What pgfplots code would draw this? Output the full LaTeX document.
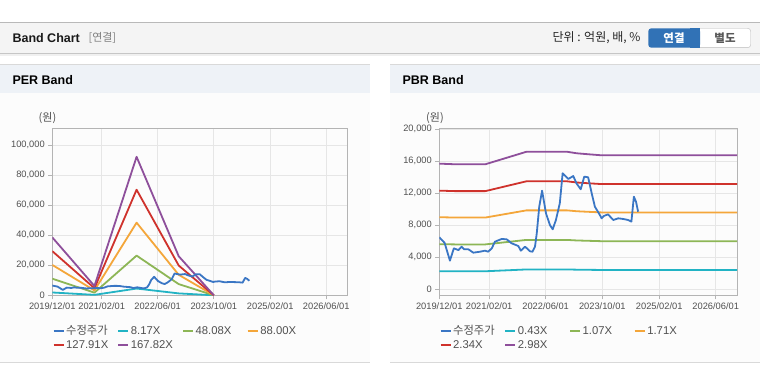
\documentclass[border=0pt]{standalone}
\usepackage{fontspec}
\setmainfont{Liberation Sans}
\newfontfamily\kr{Noto Sans CJK KR}
\usepackage{pgfplots}
\pgfplotsset{compat=1.18}
\definecolor{cPrice}{HTML}{3A76C4}
\definecolor{cCyan}{HTML}{22B3C4}
\definecolor{cGreen}{HTML}{8DB656}
\definecolor{cOrange}{HTML}{F4A63A}
\definecolor{cRed}{HTML}{CF322C}
\definecolor{cPurple}{HTML}{8E4F9B}
\definecolor{hdr}{HTML}{F4F4F4}
\definecolor{ptitle}{HTML}{EEF2F7}
\definecolor{pbody}{HTML}{FCFCFC}
\definecolor{btnblue}{HTML}{3172B6}
\definecolor{gridc}{HTML}{E6E6E6}
\definecolor{axisc}{HTML}{B4B4B4}
\definecolor{labc}{HTML}{505050}
\pgfplotsset{bandaxis/.style={
  scale only axis, height=167pt, xmin=0, xmax=84,
  xtick={0,14.06,30,46,62.06,78},
  xticklabels={2019/12/01,2021/02/01,2022/06/01,2023/10/01,2025/02/01,2026/06/01},
  grid=major, major grid style={draw=gridc, line width=0.8pt},
  axis line style={draw=axisc, line width=1pt},
  tick style={draw=axisc, line width=0.8pt}, major tick length=4pt, tick align=outside, tick pos=left,
  ticklabel style={font=\fontsize{9.3}{10}\selectfont, text=labc},
  yticklabel style={/pgf/number format/.cd, fixed, 1000 sep={,}, assume math mode=true},
  scaled y ticks=false,
  every axis plot/.append style={line width=1.8pt, mark=none, line join=round},
  legend columns=4,
  legend cell align=left,
  legend style={draw=none, fill=none, at={(0,0)}, anchor=north west, yshift=-29pt,
    font=\fontsize{11.3}{12}\selectfont, inner sep=0pt, row sep=2pt,
    nodes={inner xsep=1.5pt, inner ysep=1pt, text=labc}},
  legend image code/.code={\draw[#1, line width=2.2pt] (0pt,0pt) -- (10pt,0pt);},
}}
\begin{document}
\begin{tikzpicture}[x=1pt,y=1pt]
\useasboundingbox (0,0) rectangle (760,364);
\fill[white] (0,0) rectangle (760,364);
% header
\fill[hdr] (0,311) rectangle (760,341);
\draw[gray!55, line width=1pt] (0,341.5) -- (760,341.5);
\fill[gray!12] (0,307.5) rectangle (760,310);
\draw[gray!45, line width=1pt] (0,310.5) -- (760,310.5);
\node[anchor=west, font=\bfseries\fontsize{12.5}{14}\selectfont, text=black!90] at (9,326) {Band Chart};
\node[anchor=west, font=\kr\fontsize{11}{13}\selectfont, text=gray] at (85,326) {[연결]};
\node[anchor=east, font=\kr\fontsize{12}{13}\selectfont, text=black!85] at (644,326) {단위 : 억원, 배, \%};
\draw[gray!55, fill=white, rounded corners=3pt] (690,316.3) rectangle (750.7,335.7);
\fill[btnblue, rounded corners=3pt] (648.3,316.3) rectangle (700,335.7);
\fill[btnblue] (690,316.3) rectangle (700,335.7);
\node[font=\kr\bfseries\fontsize{11.5}{13}\selectfont, text=white] at (674,326) {연결};
\node[font=\kr\bfseries\fontsize{11.5}{13}\selectfont, text=black!65] at (725,326) {별도};
% panels
\fill[pbody] (0,2) rectangle (370,271);
\fill[ptitle] (0,271) rectangle (370,299.7);
\draw[gray!30, line width=1pt] (0,299.7) -- (370,299.7);
\draw[gray!30, line width=1pt] (0,2) -- (370,2);
\node[anchor=west, font=\bfseries\fontsize{12.5}{14}\selectfont] at (9,283.5) {PER Band};
\fill[pbody] (390,2) rectangle (760,271);
\fill[ptitle] (390,271) rectangle (760,299.7);
\draw[gray!30, line width=1pt] (390,299.7) -- (760,299.7);
\draw[gray!30, line width=1pt] (390,2) -- (760,2);
\node[anchor=west, font=\bfseries\fontsize{12.5}{14}\selectfont] at (399,283.5) {PBR Band};
\node[font=\kr\fontsize{11}{12}\selectfont, text=labc] at (47.5,246) {(원)};
\node[font=\kr\fontsize{11}{12}\selectfont, text=labc] at (435,246) {(원)};
% PER axis
\begin{axis}[bandaxis, at={(52.3pt,68.7pt)}, anchor=south west, width=295pt,
  ymin=0, ymax=111300, ytick={0,20000,40000,60000,80000,100000}]
\addlegendimage{cPrice}
\addlegendentry{\makebox[49.5pt][l]{\kr 수정주가}}
\addplot[cCyan] coordinates {(0,1880) (12,300) (24,4500) (36,1270) (46,0)};
\addlegendentry{\makebox[49.5pt][l]{8.17X}}
\addplot[cGreen] coordinates {(0,11060) (12,1780) (24,26450) (36,7450) (46,0)};
\addlegendentry{\makebox[49.5pt][l]{48.08X}}
\addplot[cOrange] coordinates {(0,20240) (12,3250) (24,48400) (36,13650) (46,0)};
\addlegendentry{\makebox[49.5pt][l]{88.00X}}
\addplot[cRed] coordinates {(0,29420) (12,4730) (24,70350) (36,19830) (46,0)};
\addlegendentry{\makebox[49.5pt][l]{127.91X}}
\addplot[cPurple] coordinates {(0,38600) (12,6210) (24,92300) (36,26010) (46,0)};
\addlegendentry{\makebox[49.5pt][l]{167.82X}}
\addplot[cPrice, forget plot] coordinates {(0,6500) (1.5,5800) (3,3580) (4.1,5120) (5.4,4900) (6.3,5330) (7,5000) (8.2,5000) (9.6,4580) (11.5,4700) (12.9,4830) (13.8,4700) (14.8,5120) (15.7,5950) (17.6,6290) (19,6250) (20.4,5750) (22.3,5410) (23,4830) (24.2,5330) (25.6,4750) (26.3,4700) (27,5330) (27.5,7000) (28.2,10330) (29,12330) (30.1,9500) (31.2,8040) (32,7500) (32.9,8660) (34,10750) (34.8,14500) (36.4,13790) (37.8,14160) (38.7,13250) (39.9,12500) (40.9,14080) (42,14000) (43,12000) (43.9,10330) (45.3,9290) (45.8,8870) (46.4,9160) (47.6,9370) (49.1,8660) (50.5,8870) (51.9,8790) (53.3,8660) (54.2,8450) (54.9,11580) (55.5,10950) (56.1,9700)};
\end{axis}
% PBR axis
\begin{axis}[bandaxis, at={(439.3pt,68.7pt)}, anchor=south west, width=297.7pt,
  ymin=-750, ymax=20125, ytick={0,4000,8000,12000,16000,20000}]
\addlegendimage{cPrice}
\addlegendentry{\makebox[49.5pt][l]{\kr 수정주가}}
\addplot[cCyan] coordinates {(0,2266) (4.4,2255) (13,2255) (24.6,2481) (36,2481) (38.8,2453) (42,2436) (45.8,2417) (84,2417)};
\addlegendentry{\makebox[49.5pt][l]{0.43X}}
\addplot[cGreen] coordinates {(0,5639) (4.4,5612) (13,5612) (24.6,6174) (36,6174) (38.8,6104) (42,6062) (45.8,6013) (84,6013)};
\addlegendentry{\makebox[49.5pt][l]{1.07X}}
\addplot[cOrange] coordinates {(0,9012) (4.4,8969) (13,8969) (24.6,9867) (36,9867) (38.8,9756) (42,9687) (45.8,9610) (84,9610)};
\addlegendentry{\makebox[49.5pt][l]{1.71X}}
\addplot[cRed] coordinates {(0,12332) (4.4,12273) (13,12273) (24.6,13502) (36,13502) (38.8,13350) (42,13256) (45.8,13151) (84,13151)};
\addlegendentry{\makebox[49.5pt][l]{2.34X}}
\addplot[cPurple] coordinates {(0,15705) (4.4,15630) (13,15630) (24.6,17195) (36,17195) (38.8,17001) (42,16882) (45.8,16748) (84,16748)};
\addlegendentry{\makebox[49.5pt][l]{2.98X}}
\addplot[cPrice, forget plot] coordinates {(0,6500) (1.5,5800) (3,3580) (4.1,5120) (5.4,4900) (6.3,5330) (7,5000) (8.2,5000) (9.6,4580) (11.5,4700) (12.9,4830) (13.8,4700) (14.8,5120) (15.7,5950) (17.6,6290) (19,6250) (20.4,5750) (22.3,5410) (23,4830) (24.2,5330) (25.6,4750) (26.3,4700) (27,5330) (27.5,7000) (28.2,10330) (29,12330) (30.1,9500) (31.2,8040) (32,7500) (32.9,8660) (34,10750) (34.8,14500) (36.4,13790) (37.8,14160) (38.7,13250) (39.9,12500) (40.9,14080) (42,14000) (43,12000) (43.9,10330) (45.3,9290) (45.8,8870) (46.4,9160) (47.6,9370) (49.1,8660) (50.5,8870) (51.9,8790) (53.3,8660) (54.2,8450) (54.9,11580) (55.5,10950) (56.1,9700)};
\end{axis}
\end{tikzpicture}
\end{document}
